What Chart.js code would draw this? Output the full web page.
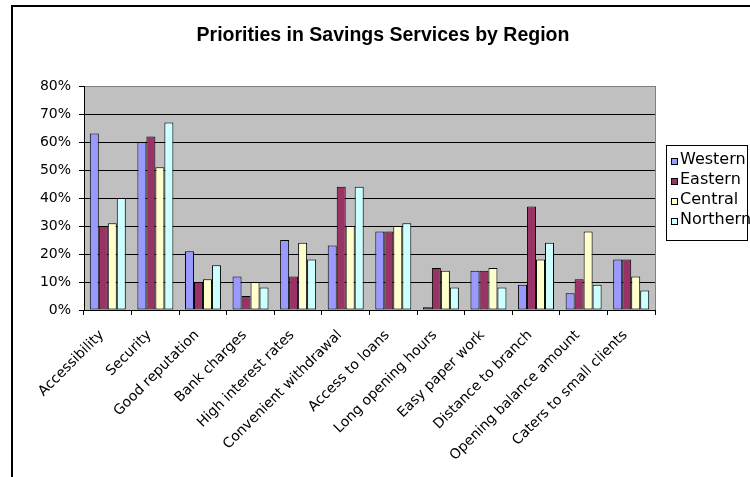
<!DOCTYPE html>
<html lang="en">
<head>
    <meta charset="UTF-8">
    <title>Priorities in Savings Services by Region</title>
    <script src="https://cdn.jsdelivr.net/npm/chart.js@4.4.1/dist/chart.umd.min.js"></script>
    <style>
        body { margin: 0; background: #ffffff; }
        canvas { display: block; }
    </style>
</head>
<body>
<canvas id="savings" width="750" height="477"></canvas>
<script>
    var chartTitle = "Priorities in Savings Services by Region";
    var categories = ["Accessibility", "Security", "Good reputation", "Bank charges", "High interest rates",
        "Convenient withdrawal", "Access to loans", "Long opening hours", "Easy paper work",
        "Distance to branch", "Opening balance amount", "Caters to small clients"];
    var regions = ["Western", "Eastern", "Central", "Northern"];

    // share of respondents, in percent
    var western = [63, 60, 21, 12, 25, 23, 28, 1, 14, 9, 6, 18];
    var eastern = [30, 62, 10, 5, 12, 44, 28, 15, 14, 37, 11, 18];
    var central = [31, 51, 11, 10, 24, 30, 30, 14, 15, 18, 28, 12];
    var northern = [40, 67, 16, 8, 18, 44, 31, 8, 8, 24, 9, 7];

    var yMax = 80;
    var yStep = 10;

    var regionColors = ["#9999FF", "#993366", "#FFFFCC", "#CCFFFF"];
    var labelFont = {family: "'DejaVu Sans', sans-serif", size: 14};

    function makeSet(i, values) {
        return {
            label: regions[i],
            data: values,
            backgroundColor: regionColors[i],
            borderColor: "#000000",
            borderWidth: 1,
            borderSkipped: false,
            barPercentage: 1,
            categoryPercentage: 0.756
        };
    }

    // frame, grey plot area, title and boxed legend
    var decorations = {
        id: "decorations",
        beforeDraw: function (chart) {
            var ctx = chart.ctx, a = chart.chartArea;
            ctx.save();
            ctx.fillStyle = "#ffffff";
            ctx.fillRect(0, 0, chart.width, chart.height);
            ctx.fillStyle = "#C0C0C0";
            ctx.fillRect(a.left, a.top, a.right - a.left, a.bottom - a.top);
            ctx.restore();
        },
        afterDraw: function (chart) {
            var ctx = chart.ctx, a = chart.chartArea;
            ctx.save();

            // outer frame
            ctx.strokeStyle = "#000000";
            ctx.lineWidth = 2;
            ctx.beginPath();
            ctx.moveTo(chart.width + 2, 6);
            ctx.lineTo(12, 6);
            ctx.lineTo(12, chart.height + 2);
            ctx.stroke();

            // right edge of plot
            ctx.lineWidth = 1;
            ctx.strokeStyle = "#808080";
            ctx.beginPath();
            ctx.moveTo(Math.round(a.right) + 0.5, a.top);
            ctx.lineTo(Math.round(a.right) + 0.5, a.bottom);
            ctx.stroke();

            // title
            ctx.fillStyle = "#000000";
            ctx.font = "bold 19.5px 'Liberation Sans', Arial, sans-serif";
            ctx.textAlign = "center";
            ctx.textBaseline = "alphabetic";
            ctx.fillText(chartTitle, 383, 41);

            // legend
            ctx.strokeStyle = "#000000";
            ctx.strokeRect(666.5, 145.5, 81, 95);
            ctx.font = "16px 'DejaVu Sans', sans-serif";
            ctx.textAlign = "left";
            ctx.textBaseline = "middle";
            chart.data.datasets.forEach(function (ds, i) {
                var y = 160 + i * 20;
                ctx.fillStyle = ds.backgroundColor;
                ctx.fillRect(671.5, y - 1.5, 6, 6);
                ctx.strokeRect(671.5, y - 1.5, 6, 6);
                ctx.fillStyle = "#000000";
                ctx.fillText(ds.label, 680, y);
            });
            ctx.restore();
        }
    };

    var ctx = document.getElementById("savings").getContext("2d");
    var savingsChart = new Chart(ctx, {
        type: "bar",
        data: {
            labels: categories,
            datasets: [makeSet(0, western), makeSet(1, eastern), makeSet(2, central), makeSet(3, northern)]
        },
        options: {
            responsive: false,
            animation: false,
            layout: {padding: {top: 86, right: 95, left: 0, bottom: 0}},
            plugins: {
                legend: {display: false},
                title: {display: false},
                tooltip: {enabled: false}
            },
            scales: {
                x: {
                    grid: {
                        offset: true,
                        drawOnChartArea: false,
                        drawTicks: true,
                        tickLength: 5,
                        color: "#000000"
                    },
                    border: {color: "#000000", width: 1},
                    ticks: {
                        autoSkip: false,
                        minRotation: 45,
                        maxRotation: 45,
                        padding: 12,
                        labelOffset: -6,
                        color: "#000000",
                        font: labelFont
                    },
                    afterFit: function (scale) {
                        scale.height = 167;
                    }
                },
                y: {
                    min: 0,
                    max: yMax,
                    grid: {
                        color: function (c) {
                            return c.tick && c.tick.value === yMax ? "#808080" : "#000000";
                        },
                        tickColor: "#000000",
                        tickLength: 5
                    },
                    border: {color: "#000000", width: 1},
                    ticks: {
                        stepSize: yStep,
                        padding: 8,
                        color: "#000000",
                        font: labelFont,
                        callback: function (v) { return v + "%"; }
                    },
                    afterFit: function (scale) {
                        scale.width = 84;
                    }
                }
            }
        },
        plugins: [decorations]
    });
</script>
</body>
</html>
